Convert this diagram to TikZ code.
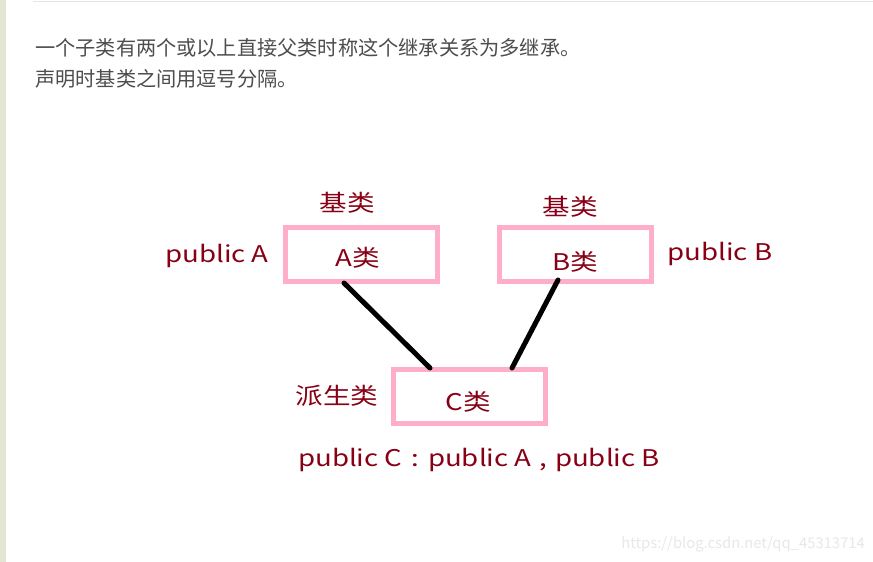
\documentclass[tikz,border=0pt]{standalone}
\usepackage{fontspec}
\setmainfont{Noto Sans CJK SC}
\newfontfamily\paintfont[FakeStretch=1.2]{Noto Sans CJK SC}
\definecolor{darkred}{RGB}{136,0,21}
\definecolor{rose}{RGB}{255,174,201}
\definecolor{bodygray}{RGB}{77,77,77}
\definecolor{strip}{RGB}{228,230,210}

\begin{document}
\begin{tikzpicture}[x=1pt,y=-1pt,
	box/.style={draw=rose, line width=5pt, minimum width=152pt, minimum height=54pt, inner sep=0pt},
	lbl/.style={text=darkred, font=\paintfont\fontsize{23}{26}\selectfont, inner sep=0pt},
	body/.style={text=bodygray, font=\fontsize{20.2}{22}\selectfont, inner sep=0pt, anchor=west},
	link/.style={line width=5pt, line cap=round}]
				\useasboundingbox (0,0) rectangle (873,562);
				\fill[white] (0,0) rectangle (873,562);
				\fill[strip] (0,0) rectangle (6,562);
				\draw[gray!20, line width=1pt] (33,1) -- (873,1);
				% text above
				\node[body] (line1) at (35,48) {一个子类有两个或以上直接父类时称这个继承关系为多继承。};
				\node[body] (line2) at (35,79) {声明时基类之间用逗号分隔。};
				% the three classes
				\node[box] (boxA) at (361.5,254.5) {};
				\node[box] (boxB) at (575.5,254.5) {};
				\node[box] (boxC) at (469.5,396.5) {};
				\node[lbl] (nameA) at (358,258) {A类};
				\node[lbl] (nameB) at (575,262) {B类};
				\node[lbl] (nameC) at (468,402) {C类};
				\node[lbl] (baseA) at (347,203) {基类};
				\node[lbl] (baseB) at (570,207) {基类};
				\node[lbl] (derived) at (337,396) {派生类};
				\node[lbl] (pubA) at (217,256) {public A};
				\node[lbl] (pubB) at (720,254) {public B};
				\node[lbl, anchor=west] (decl) at (298,460) {public C\hspace{9pt}:\hspace{9pt}public A\hspace{8pt},\hspace{8pt}public B};
				% connectors
				\coordinate (a1) at ([xshift=-17.5pt, yshift=1pt]boxA.south);
				\coordinate (c1) at ([xshift=-39.5pt, yshift=-1pt]boxC.north);
				\coordinate (b1) at ([xshift=-17.5pt, yshift=4pt]boxB.south);
				\coordinate (c2) at ([xshift=42.5pt, yshift=-1pt]boxC.north);
				\draw[link] (a1) -- (c1);
				\draw[link] (b1) -- (c2);
				\node[text=gray!18, font=\fontsize{14.8}{16}\selectfont, anchor=east, inner sep=0pt] (mark) at (865,544) {https://blog.csdn.net/qq\_45313714};
			\end{tikzpicture}
\end{document}
